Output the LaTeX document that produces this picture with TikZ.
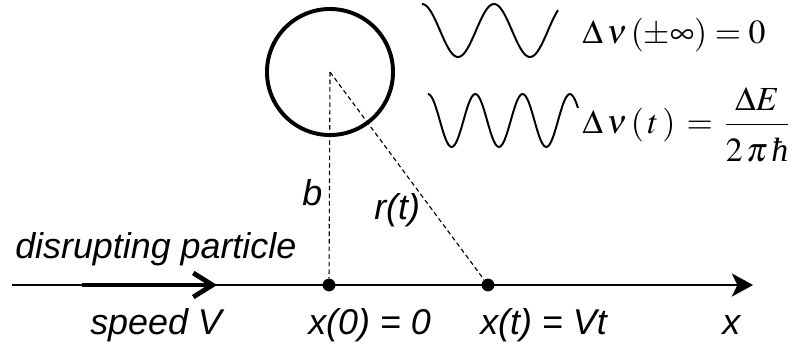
\documentclass[tikz,border=0pt]{standalone}
\usepackage{amsmath}
\usepackage{mathptmx}
\usepackage[no-math]{fontspec}
\setmainfont{Liberation Sans}
\newfontfamily\tmsfont{Liberation Serif}
\newcommand{\hbarglyph}{\text{\tmsfont\itshape ħ}}
\usepackage{tikz}
\usetikzlibrary{arrows.meta}

\begin{document}
\begin{tikzpicture}[
    x=0.025cm, y=-0.025cm,
    lbl/.style={font=\fontsize{25.5}{30}\selectfont\itshape, inner sep=0pt, anchor=base west},
    eqn/.style={font=\fontsize{24}{28}\selectfont, inner sep=0pt, anchor=base west},
    atom/.style={draw, circle, line width=2.8pt, minimum size=3.15cm, inner sep=0pt},
    dot/.style={fill, circle, minimum size=0.32cm, inner sep=0pt},
    axis/.style={-{Stealth[length=0.53cm, width=0.58cm, inset=0.14cm]}, line width=1.4pt},
    push/.style={-{Straight Barb[length=0.48cm, width=0.6cm]}, line width=3.4pt},
    link/.style={line width=0.8pt, dash pattern=on 3.2pt off 2.2pt},
    wave/.style={line width=1.4pt, smooth, samples=90}
]
\useasboundingbox (0,0) rectangle (796,351);

% target and trajectory
\node[atom] (atom) at (330,72) {};
\coordinate (xstart) at (12,285);
\coordinate (xend)   at (753,285);
\coordinate (vstart) at (82,285);
\coordinate (vend)   at (217,285);
\node[dot] (p0) at (329,285) {};
\node[dot] (pt) at (488,285) {};

\draw[axis] (xstart) -- (xend);
\draw[push] (vstart) -- (vend);
\draw[link] (atom.center) -- (p0);
\draw[link] (atom.center) -- (pt);

% labels
\node[lbl] (dp)   at (15,258)  {disrupting particle};
\node[lbl] (spd)  at (90,334)  {speed V};
\node[lbl] (x0)   at (308,334) {x(0) = 0};
\node[lbl] (xt)   at (480,334) {x(t) = Vt};
\node[lbl] (xlab) at (722,334) {x};
\node[lbl] (blab) at (302,205) {b};
\node[lbl] (rlab) at (374,219) {r(t)};

% emitted waves
\draw[wave] plot[domain=0:136] ({422+\x}, {30.5-26.5*cos(\x/72*360)});
\draw[wave] plot[domain=0:150] ({428+\x}, {120.5-26.5*cos(\x/47.3*360)});
\node[eqn] (eqinf) at (582,43)  {$\Delta\,\nu\,(\pm\infty)=0$};
\node[eqn] (eqt)   at (582,133)
    {$\Delta\,\nu\,(\,t\,)\,=\,\dfrac{\Delta E}{\rule{0pt}{0.95em}2\,\pi\,\hbarglyph}$};
\end{tikzpicture}
\end{document}
